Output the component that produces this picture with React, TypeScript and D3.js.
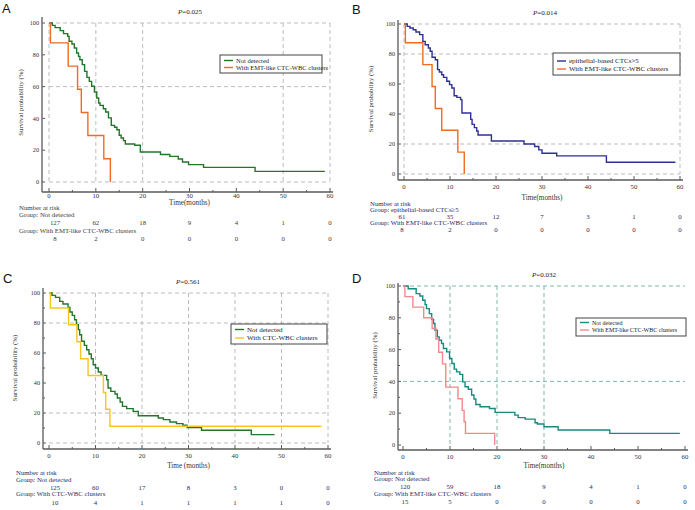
import React from 'react'
import * as d3 from 'd3'

type Pt = [number, number]

// shared axis values
const timeTicks = [0, 10, 20, 30, 40, 50, 60]
const survTicks = [0, 20, 40, 60, 80, 100]

// Panel A
const aNotDetected: Pt[] = [[0, 100], [0.7, 98.5], [1.3, 97.1], [2.4, 95.2], [3.1, 93.3], [4.0, 91.6], [4.3, 88.5], [4.9, 86.8], [5.4, 84.3], [5.9, 81.1], [6.3, 79.0], [6.6, 76.9], [7.1, 73.8], [7.6, 69.6], [8.1, 65.8], [8.6, 63.3], [9.1, 60.2], [9.7, 56.6], [10.2, 52.8], [10.6, 49.7], [10.9, 48.2], [11.6, 46.1], [12.1, 44.0], [12.7, 40.3], [13.3, 35.6], [14.0, 34.4], [14.5, 32.9], [15.0, 29.4], [15.4, 27.7], [15.9, 26.0], [16.3, 23.9], [18.3, 23.1], [19.5, 18.9], [23.8, 17.3], [25.8, 16.1], [27.6, 14.5], [28.5, 12.6], [29.8, 10.9], [33, 9.2], [44, 6.7], [58.9, 6.7]]
const aEmtClusters: Pt[] = [[0, 100], [0.3, 87.5], [4.1, 72.9], [6.1, 58.3], [6.9, 43.7], [8.3, 29.2], [11.7, 14.6], [13.1, 0]]
const aRiskNot = [127, 62, 18, 9, 4, 1, 0]
const aRiskEmt = [8, 2, 0, 0, 0, 0, 0]

// Panel B
const bEpithelial: Pt[] = [[0, 100], [0.7, 98.4], [1.3, 97.3], [2.0, 96.2], [2.6, 94.7], [3.4, 92.9], [4.1, 88.4], [4.6, 86.2], [5.3, 84.0], [5.7, 81.8], [6.1, 77.8], [6.8, 76.2], [7.3, 69.6], [7.7, 68.0], [8.2, 66.2], [8.6, 64.4], [9.3, 61.8], [9.9, 59.6], [10.4, 57.3], [10.9, 52.2], [11.5, 51.1], [12.3, 49.6], [12.6, 40.7], [14.5, 36.4], [14.8, 33.1], [15.3, 30.9], [15.8, 28.7], [16.1, 26.0], [19.0, 22.0], [26.1, 20.0], [28.4, 18.3], [29.3, 16.1], [30.0, 13.8], [33.2, 12.1], [44.0, 7.8], [59.0, 7.8]]
const bEmtClusters: Pt[] = [[0, 100], [0.3, 87.5], [4.1, 72.9], [6.1, 58.3], [6.8, 43.7], [8.2, 29.2], [11.7, 14.6], [13.1, 0]]
const bRiskEpi = [61, 35, 12, 7, 3, 1, 0]
const bRiskEmt = [8, 2, 0, 0, 0, 0, 0]

// Panel C
const cNotDetected: Pt[] = [[0, 100], [0.65, 98.4], [1.4, 97.1], [2.3, 94.4], [3.0, 92.7], [4.1, 90.4], [4.5, 87.3], [5.0, 85.1], [5.5, 82.2], [5.9, 78.9], [6.3, 75.6], [6.6, 72.2], [7.0, 67.8], [7.6, 65.1], [8.1, 62.2], [8.6, 59.3], [9.1, 56.2], [9.5, 52.2], [10.0, 50.0], [10.6, 47.3], [11.2, 45.1], [12.4, 42.2], [12.7, 36.7], [13.3, 34.4], [14.2, 32.7], [14.7, 30.0], [15.3, 27.3], [15.8, 24.4], [16.7, 22.9], [18.1, 21.1], [19.2, 18.2], [23.5, 16.7], [24.6, 15.6], [26.0, 14.0], [27.4, 12.9], [28.8, 11.8], [29.7, 10.3], [32.8, 8.5], [43.5, 5.6], [48.5, 5.6]]
const cClusters: Pt[] = [[0, 100], [0.3, 90], [4.2, 78.8], [6.0, 67.5], [6.8, 56.2], [8.4, 45], [11.7, 33.7], [12.2, 22.5], [13.1, 11.2], [58.6, 11.2]]
const cRiskNot = [125, 60, 17, 8, 3, 0, 0]
const cRiskClusters = [10, 4, 1, 1, 1, 1, 0]

// Panel D
const dNotDetected: Pt[] = [[0, 100], [1.1, 98.3], [2.8, 95.2], [3.6, 93.7], [4.2, 91], [4.7, 88.3], [5.0, 85.8], [5.6, 82.6], [6.1, 79.1], [6.5, 76.4], [6.8, 72.2], [7.3, 68], [7.7, 65.9], [8.2, 63.8], [8.6, 60.7], [9.3, 58.6], [9.9, 54.4], [10.4, 51.3], [10.9, 47.7], [11.4, 46], [12.1, 44.4], [12.7, 39.7], [13.2, 36.6], [13.9, 35.1], [14.6, 31.4], [15.1, 28.9], [15.5, 25.5], [16.4, 24.1], [18.4, 23], [19.6, 20.5], [23.8, 18.8], [24.5, 17.2], [26, 16.3], [28.1, 14.0], [28.6, 13.2], [30, 11.5], [33, 9.4], [44, 7.3], [58.9, 7.3]]
const dEmtClusters: Pt[] = [[0, 100], [0.4, 93.3], [2.1, 86.7], [4.4, 80], [6.2, 73.3], [7.0, 66.7], [7.6, 58.3], [8.4, 51], [9.1, 36.4], [11.7, 29.1], [12.6, 21.8], [13.0, 14.6], [13.3, 7.3], [19.5, 0]]
const dRiskNot = [120, 59, 18, 9, 4, 1, 0]
const dRiskEmt = [15, 5, 0, 0, 0, 0, 0]

const SERIF = '"Liberation Serif", "DejaVu Serif", serif'
const SANS = '"Liberation Sans", Arial, sans-serif'

const panels = [
  {
    letter: 'A', letterPos: [2, 13], pText: 'P=0.025', pPos: [190, 14],
    tRange: [49, 330], sRange: [182, 23], axisX: 42, axisTop: 17, axisBottom: 192, axisRight: 333,
    gridX: [0, 10, 20, 50, 60], gridY: [100, 60, 0], gridColor: '#b5b5b5', minorY: false,
    yLabelX: 23, timeLabel: 'Time(months)',
    rows: [198, 204.5, 209.5, 216.5, 224.5, 232.5, 240.5], rowLeft: 19, firstShift: 6, textColor: '#3a3a4a',
    legend: { x: 220, y: 55, w: 102, h: 18, rows: [60.5, 67.5], fs: 6.5 },
    series: [
      { name: 'Not detected', data: aNotDetected, color: '#22762a', risk: aRiskNot, group: 'Group: Not detected' },
      { name: 'With EMT-like CTC-WBC clusters', data: aEmtClusters, color: '#f26a21', risk: aRiskEmt, group: 'Group: With EMT-like CTC-WBC clusters' },
    ],
  },
  {
    letter: 'B', letterPos: [352, 14], pText: 'P=0.014', pPos: [545, 15],
    tRange: [404, 680], sRange: [174, 24], axisX: 398, axisTop: 20, axisBottom: 180, axisRight: 683,
    gridX: [0, 60], gridY: [100, 80, 20, 0], gridColor: '#b5b5b5', minorY: false,
    yLabelX: 373, timeLabel: 'Time(months)',
    rows: [188.5, 199.5, 205.5, 211.5, 218.5, 224.5, 231.5], rowLeft: 370, firstShift: -2, textColor: '#2a2a66',
    legend: { x: 553, y: 53, w: 127, h: 22, rows: [61, 69], fs: 7 },
    series: [
      { name: 'epithelial-based CTCs>5', data: bEpithelial, color: '#2e3192', risk: bRiskEpi, group: 'Group: epithelial-based CTCs≥5' },
      { name: 'With EMT-like CTC-WBC clusters', data: bEmtClusters, color: '#f26a21', risk: bRiskEmt, group: 'Group: With EMT-like CTC-WBC clusters' },
    ],
  },
  {
    letter: 'C', letterPos: [3, 283], pText: 'P=0.561', pPos: [188, 284],
    tRange: [49, 328], sRange: [443, 293], axisX: 43, axisTop: 288, axisBottom: 449, axisRight: 331,
    gridX: [10, 20, 30, 40, 50, 60], gridY: [100, 80, 20, 0], gridColor: '#b5b5b5', minorY: true,
    yLabelX: 17, timeLabel: 'Time (months)',
    rows: [457.5, 467.5, 474.5, 481.5, 489.5, 495.5, 504.5], rowLeft: 16, firstShift: 6, textColor: '#2a2a66',
    legend: { x: 231, y: 324, w: 96, h: 20, rows: [329.5, 338], fs: 7 },
    series: [
      { name: 'Not detected', data: cNotDetected, color: '#22762a', risk: cRiskNot, group: 'Group: Not detected' },
      { name: 'With CTC-WBC clusters', data: cClusters, color: '#f7c51b', risk: cRiskClusters, group: 'Group: With CTC-WBC clusters' },
    ],
  },
  {
    letter: 'D', letterPos: [352, 283], pText: 'P=0.032', pPos: [544, 277],
    tRange: [403, 685], sRange: [445, 286], axisX: 398, axisTop: 283, axisBottom: 450, axisRight: 688,
    gridX: [10, 20, 30], gridY: [100, 40], gridColor: '#6fb0a6', minorY: true,
    yLabelX: 377, timeLabel: 'Time(months)',
    rows: [458.5, 467.5, 474.5, 480.5, 488.5, 495.5, 503.5], rowLeft: 374, firstShift: 2, textColor: '#2a2a66',
    legend: { x: 576, y: 318, w: 110, h: 18, rows: [322.5, 330], fs: 6 },
    series: [
      { name: 'Not detected', data: dNotDetected, color: '#178a80', risk: dRiskNot, group: 'Group: Not detected' },
      { name: 'With EMT-like CTC-WBC clusters', data: dEmtClusters, color: '#f4888a', risk: dRiskEmt, group: 'Group: With EMT-like CTC-WBC clusters' },
    ],
  },
]

const Panel = ({ p }: { p: any }) => {
  const x = d3.scaleLinear().domain([0, 60]).range(p.tRange)
  const y = d3.scaleLinear().domain([0, 100]).range(p.sRange)
  const line = d3.line<Pt>().x(d => x(d[0])).y(d => y(d[1])).curve(d3.curveStepAfter)
  const [r0, rTime, rNar, rG1, rN1, rG2, rN2] = p.rows
  const axisColor = '#5a5a5a'
  const fs = 6.8

  return (
    <g>
      <text x={p.letterPos[0]} y={p.letterPos[1]} fontFamily={SANS} fontSize={13} fill="#111">{p.letter}</text>
      <text x={p.pPos[0]} y={p.pPos[1]} fontFamily={SERIF} fontSize={7} fill="#222" textAnchor="middle">
        <tspan fontStyle="italic">P</tspan>{p.pText.slice(1)}
      </text>

      {/* grid */}
      {p.gridX.map((t: number) => (
        <line key={'gx' + t} x1={x(t)} x2={x(t)} y1={y(100)} y2={y(0)} stroke={p.gridColor} strokeDasharray="4,3" strokeWidth={0.9} />
      ))}
      {p.gridY.map((s: number) => (
        <line key={'gy' + s} x1={x(0)} x2={x(60)} y1={y(s)} y2={y(s)} stroke={p.gridColor} strokeDasharray="4,3" strokeWidth={0.9} />
      ))}

      {/* axes */}
      <line x1={p.axisX} x2={p.axisX} y1={p.axisTop} y2={p.axisBottom} stroke={axisColor} strokeWidth={1.3} />
      <line x1={p.axisX} x2={p.axisRight} y1={p.axisBottom} y2={p.axisBottom} stroke={axisColor} strokeWidth={1.3} />
      {d3.range(0, 61, 5).map(t => (
        <line key={'xt' + t} x1={x(t)} x2={x(t)} y1={p.axisBottom} y2={p.axisBottom - (t % 10 === 0 ? 4 : 2)} stroke={axisColor} strokeWidth={1} />
      ))}
      {(p.minorY ? d3.range(0, 101, 10) : survTicks).map((s: number) => (
        <line key={'yt' + s} x1={p.axisX} x2={p.axisX + (s % 20 === 0 ? 3 : 2)} y1={y(s)} y2={y(s)} stroke={axisColor} strokeWidth={1} />
      ))}
      {survTicks.map(s => (
        <text key={'yl' + s} x={p.axisX - 3} y={y(s) + 2.2} fontFamily={SERIF} fontSize={6.2} fill="#333" textAnchor="end">{s}</text>
      ))}
      {timeTicks.map(t => (
        <text key={'xl' + t} x={x(t)} y={r0} fontFamily={SERIF} fontSize={fs} fill="#333" textAnchor="middle">{t}</text>
      ))}
      <text x={(x(0) + x(60)) / 2} y={rTime} fontFamily={SERIF} fontSize={7.2} fill="#333" textAnchor="middle">{p.timeLabel}</text>
      <text transform={`translate(${p.yLabelX},${(y(0) + y(100)) / 2}) rotate(-90)`} fontFamily={SERIF} fontSize={6.8} fill="#333" textAnchor="middle">Survival probability (%)</text>

      {/* curves */}
      {p.series.map((s: any) => (
        <path key={s.name} d={line(s.data) || ''} fill="none" stroke={s.color} strokeWidth={1.4} />
      ))}

      {/* legend */}
      <rect x={p.legend.x} y={p.legend.y} width={p.legend.w} height={p.legend.h} fill="#fff" stroke="#444" strokeWidth={1} />
      {p.series.map((s: any, i: number) => (
        <g key={'lg' + i}>
          <line x1={p.legend.x + 4} x2={p.legend.x + 13} y1={p.legend.rows[i]} y2={p.legend.rows[i]} stroke={s.color} strokeWidth={1.4} />
          <text x={p.legend.x + 16} y={p.legend.rows[i] + 2.2} fontFamily={SERIF} fontSize={p.legend.fs} fill="#222">{s.name}</text>
        </g>
      ))}

      {/* number at risk */}
      <text x={p.rowLeft} y={rNar} fontFamily={SERIF} fontSize={fs} fill={p.textColor}>Number at risk</text>
      <text x={p.rowLeft} y={rG1} fontFamily={SERIF} fontSize={fs} fill={p.textColor}>{p.series[0].group}</text>
      <text x={p.rowLeft} y={rG2} fontFamily={SERIF} fontSize={fs} fill={p.textColor}>{p.series[1].group}</text>
      {timeTicks.map((t, i) => (
        <g key={'nr' + t}>
          <text x={x(t) + (i === 0 ? p.firstShift : 0)} y={rN1} fontFamily={SERIF} fontSize={fs} fill={p.textColor} textAnchor="middle">{p.series[0].risk[i]}</text>
          <text x={x(t) + (i === 0 ? p.firstShift : 0)} y={rN2} fontFamily={SERIF} fontSize={fs} fill={p.textColor} textAnchor="middle">{p.series[1].risk[i]}</text>
        </g>
      ))}
    </g>
  )
}

export default function App() {
  return (
    <svg width={695} height={510} style={{ position: 'absolute', left: 0, top: 0, background: '#fff' }}>
      <rect width={695} height={510} fill="#fff" />
      {panels.map(p => <Panel key={p.letter} p={p} />)}
    </svg>
  )
}
